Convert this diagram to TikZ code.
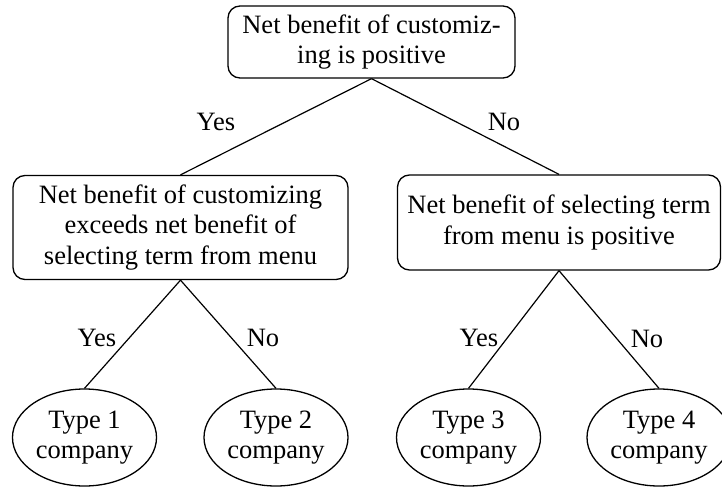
\documentclass[tikz,border=0pt]{standalone}
\usepackage{fontspec}
\setmainfont{Liberation Serif}
\usetikzlibrary{shapes.geometric}
\tikzset{
	box/.style={draw, rounded corners=12pt, line width=1.3pt, align=center, inner sep=0pt},
	leaf/.style={draw, ellipse, line width=1.3pt, align=center, inner sep=0pt, minimum width=144pt, minimum height=97pt},
	lbl/.style={inner sep=0pt},
	edge/.style={line width=1.2pt}
}

\begin{document}
\begin{tikzpicture}[x=1pt, y=-1pt, font=\fontsize{26.5}{30.7}\selectfont]
		%%%%% START %%%%%
		\useasboundingbox (0, 0) rectangle (722, 487);
		
		\node[box, minimum width=287pt, minimum height=72pt] (root) at (371.5, 42) {Net benefit of customiz-\\ing is positive};
		
		\node[box, minimum width=335pt, minimum height=104pt] (custom) at (180.5, 227.5) {Net benefit of customizing\\exceeds net benefit of\\selecting term from menu};
		\node[box, minimum width=323pt, minimum height=95pt] (menu) at (559, 222.5) {Net benefit of selecting term\\from menu is positive};
		
		\node[leaf] (type1) at (84.5, 437.5) {Type 1\\company};
		\node[leaf] (type2) at (276, 437.5) {Type 2\\company};
		\node[leaf] (type3) at (468.5, 437.5) {Type 3\\company};
		\node[leaf] (type4) at (659, 437.5) {Type 4\\company};
		
		\draw[edge] (root.south) -- (custom.north);
		\draw[edge] (root.south) -- (menu.north);
		\draw[edge] (custom.south) -- (type1.north);
		\draw[edge] (custom.south) -- (type2.north);
		\draw[edge] (menu.south) -- (type3.north);
		\draw[edge] (menu.south) -- (type4.north);
		
		\node[lbl] (yesTop) at (216, 122) {Yes};
		\node[lbl] (noTop) at (504, 122) {No};
		\node[lbl] (yesA) at (97, 338) {Yes};
		\node[lbl] (noA) at (263, 338) {No};
		\node[lbl] (yesB) at (479, 338) {Yes};
		\node[lbl] (noB) at (647, 339) {No};
		%%%%% END %%%%%
\end{tikzpicture}
\end{document}
